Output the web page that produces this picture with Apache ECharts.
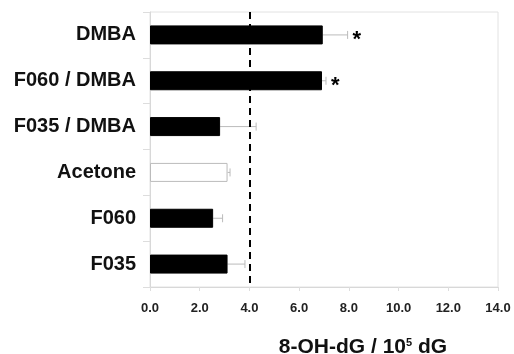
<!DOCTYPE html>
<html><head><meta charset="utf-8">
<script src="https://cdn.jsdelivr.net/npm/echarts@6/dist/echarts.min.js"></script>
<style>html,body{margin:0;padding:0;background:#fff}#c{width:514px;height:354px}</style>
</head><body><div id="c"></div>
<script>
var categories = ['DMBA', 'F060 / DMBA', 'F035 / DMBA', 'Acetone', 'F060', 'F035'];
var means = [6.95, 6.92, 2.82, 3.12, 2.54, 3.12];
var errors = [1.0, 0.16, 1.45, 0.1, 0.38, 0.7];
var significant = [true, true, false, false, false, false];
var barColors = ['#000', '#000', '#000', '#fff', '#000', '#000'];
var xTicks = [0, 2, 4, 6, 8, 10, 12, 14];
var refLine = 4.0;

var chart = echarts.init(document.getElementById('c'));
var barData = means.map(function (v, i) {
  return {value: v, itemStyle: {color: barColors[i], borderColor: barColors[i] === '#fff' ? '#bbb' : '#000', borderWidth: 1}};
});
var errData = means.map(function (v, i) { return [i, v, v + errors[i], significant[i] ? 1 : 0]; });

chart.setOption({
  animation: false,
  grid: {left: 150, right: 16, top: 12, bottom: 67, show: true, borderColor: '#e2e2e2', borderWidth: 1,
    containLabel: false, outerBoundsMode: 'none'},
  xAxis: {
    type: 'value', min: xTicks[0], max: xTicks[xTicks.length - 1], interval: 2,
    axisLine: {show: true, lineStyle: {color: '#d8d8d8'}},
    axisTick: {show: true, length: 4, lineStyle: {color: '#ddd'}},
    splitLine: {show: false},
    axisLabel: {margin: 15, color: '#222', fontWeight: 'bold', fontSize: 13, fontFamily: 'Liberation Sans',
      formatter: function (v) { return v.toFixed(1); }},
    name: '8-OH-dG / 10{s|5} dG', nameLocation: 'middle', nameGap: 50,
    nameTextStyle: {color: '#111', fontWeight: 'bold', fontSize: 21, fontFamily: 'Liberation Sans', padding: [0, 0, 0, 78],
      rich: {s: {fontSize: 11, fontWeight: 'bold', verticalAlign: 'top', padding: [0, 0, 10, 0], fontFamily: 'Liberation Sans', color: '#111'}}}
  },
  yAxis: {
    type: 'category', data: categories, inverse: true,
    axisLine: {show: true, lineStyle: {color: '#d8d8d8'}},
    axisTick: {show: true, length: 7, lineStyle: {color: '#ddd'}},
    axisLabel: {margin: 14, color: '#111', fontWeight: 'bold', fontSize: 20, fontFamily: 'Liberation Sans'}
  },
  series: [
    {type: 'bar', data: barData, barWidth: 19,
      markLine: {silent: true, symbol: 'none', label: {show: false},
        lineStyle: {color: '#000', type: [7, 5], width: 2},
        data: [{xAxis: refLine}]}},
    {type: 'custom', data: errData, z: 1,
      renderItem: function (params, api) {
        var i = api.value(0);
        var p0 = api.coord([api.value(1), i]);
        var p1 = api.coord([api.value(2), i]);
        var children = [
          {type: 'line', shape: {x1: p0[0], y1: p0[1], x2: p1[0], y2: p1[1]}, style: {stroke: '#bbb', lineWidth: 1}},
          {type: 'line', shape: {x1: p1[0], y1: p1[1] - 4, x2: p1[0], y2: p1[1] + 4}, style: {stroke: '#bbb', lineWidth: 1}}
        ];
        if (api.value(3)) {
          children.push({type: 'text', x: p1[0] + 5, y: p1[1] + 5,
            style: {text: '*', fill: '#000', font: 'bold 22px Liberation Sans', verticalAlign: 'middle', align: 'left'}});
        }
        return {type: 'group', children: children};
      }}
  ]
});
</script></body></html>
